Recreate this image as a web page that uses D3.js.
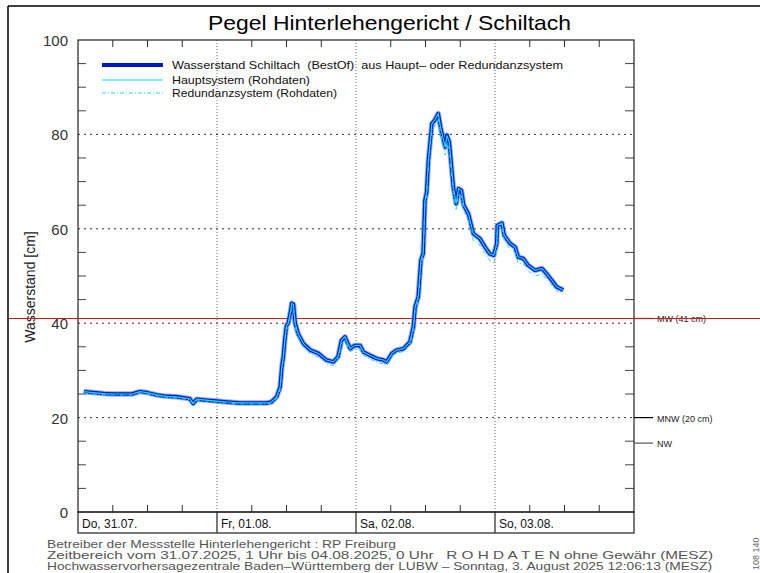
<!DOCTYPE html>
<html><head><meta charset="utf-8">
<script src="https://cdn.jsdelivr.net/npm/d3@7"></script>
<style>body{margin:0;background:#fff}svg{display:block}text{font-family:"Liberation Sans","DejaVu Sans",sans-serif;white-space:pre}</style>
</head><body><svg id="c" width="760" height="573"></svg>
<script>
const title = "Pegel Hinterlehengericht / Schiltach";
const dayLabels = ["Do, 31.07.", "Fr, 01.08.", "Sa, 02.08.", "So, 03.08."];
const yTicks = [0, 20, 40, 60, 80, 100];
const hours = [1.0,2.6,4.4,6.0,7.8,9.3,10.7,11.9,13.6,15.3,17.0,18.8,19.3,19.9,20.5,22.2,23.9,25.7,28.0,30.3,32.6,33.4,34.3,34.9,35.2,35.45,35.7,36.0,36.3,36.7,36.9,37.2,37.5,38.0,38.9,40.1,41.5,42.9,44.1,44.9,45.5,46.1,47.0,47.8,48.7,49.3,50.4,51.6,52.7,53.3,54.2,55.0,56.2,57.3,57.9,58.2,58.75,59.2,59.6,59.9,60.2,60.5,61.1,61.6,62.2,62.6,63.0,63.4,63.7,64.1,64.5,64.8,65.3,65.7,66.2,66.6,67.4,68.25,69.4,70.3,71.1,71.8,72.3,72.4,73.2,73.6,74.6,75.5,76.0,76.9,77.7,78.9,80.1,80.9,81.8,82.65,83.8];
const bestOf = [25.5,25.3,25.1,25.0,25.0,25.0,25.5,25.3,24.8,24.5,24.4,24.1,24.0,23.0,23.9,23.7,23.5,23.3,23.1,23.1,23.1,23.3,24.4,26.5,30.8,32.9,36.4,39.5,40.0,42.5,44.2,44.0,40.0,37.8,35.7,34.3,33.6,32.2,31.8,32.9,36.4,37.1,34.6,35.3,35.3,33.9,33.2,32.5,32.2,31.8,33.6,34.3,34.6,36.0,39.2,43.4,45.6,53.3,54.8,66.0,67.8,74.5,82.3,83.0,84.4,81.5,79.4,77.3,79.8,78.4,73.0,68.9,65.3,68.5,68.1,65.0,63.2,59.0,57.9,56.1,54.7,54.4,56.9,60.7,61.2,58.6,56.9,56.1,54.0,53.7,52.3,51.2,51.6,50.5,49.1,47.7,47.0];
const haupt = [25.5,25.3,25.1,25.0,25.0,25.0,25.5,25.3,24.8,24.5,24.4,24.1,24.0,23.0,23.9,23.7,23.5,23.3,23.1,23.1,23.1,23.3,24.4,26.5,30.8,32.9,36.4,39.5,40.0,42.5,44.2,44.0,40.0,37.8,35.7,34.3,33.6,32.2,31.8,32.9,36.4,37.1,34.6,35.3,35.3,33.9,33.2,32.5,32.2,31.8,33.6,34.3,34.6,36.0,39.2,43.4,45.6,53.3,54.8,66.0,67.8,74.5,82.3,83.0,84.4,81.5,79.4,77.3,79.8,78.4,73.0,68.9,65.3,68.5,68.1,65.0,63.2,59.0,57.9,56.1,54.7,54.4,56.9,60.7,61.2,58.6,56.9,56.1,54.0,53.7,52.3,51.2,51.6,50.5,49.1,47.7,47.0];
const redundanz = [25.2,25.0,24.9,24.8,24.8,24.8,25.2,25.0,24.6,24.3,24.2,23.9,23.8,22.8,23.7,23.5,23.3,23.1,22.9,22.9,22.9,23.1,24.0,26.0,30.0,32.3,35.5,38.6,39.2,41.8,43.5,43.2,39.2,37.0,34.9,33.5,32.8,31.5,31.0,32.3,35.6,36.4,33.9,34.6,34.6,33.2,32.4,31.7,31.4,31.0,33.0,33.7,34.0,35.4,38.6,42.6,44.8,52.4,54.0,65.0,66.8,73.4,80.9,81.8,83.3,80.2,77.8,75.6,78.3,76.9,71.5,67.6,64.1,67.3,66.9,63.8,62.0,57.5,56.5,54.7,53.3,52.6,55.5,59.5,60.0,57.4,55.7,54.9,52.8,52.5,51.1,50.0,50.4,49.4,48.0,46.8,46.3];
const legendLabels = ["Wasserstand Schiltach  (BestOf)  aus Haupt\u2013 oder Redundanzsystem", "Hauptsystem (Rohdaten)", "Redundanzsystem (Rohdaten)"];
const refLevels = [{label:"MW (41 cm)", v:41}, {label:"MNW (20 cm)", v:20}, {label:"NW", v:14.6}];
const footer = ["Betreiber der Messstelle Hinterlehengericht : RP Freiburg",
  "Zeitbereich vom 31.07.2025, 1 Uhr bis 04.08.2025, 0 Uhr   R O H D A T E N ohne Gew\u00e4hr (MESZ)",
  "Hochwasservorhersagezentrale Baden\u2013W\u00fcrttemberg der LUBW \u2013 Sonntag, 3. August 2025 12:06:13 (MESZ)"];

const svg = d3.select("#c");
const L = 78, R = 634, T = 40, B = 512;
const t0 = new Date(2025, 6, 31, 0), t1 = new Date(2025, 7, 4, 0);
const x = d3.scaleTime().domain([t0, t1]).range([L, R]);
const y = d3.scaleLinear().domain([0, 100]).range([B, T]);
const toDate = h => new Date(t0.getTime() + h * 3600e3);

// frame
svg.append("line").attr("x1", 8).attr("x2", 760).attr("y1", 6).attr("y2", 6).attr("stroke", "#000").attr("stroke-width", 1.5);
svg.append("line").attr("x1", 8).attr("x2", 8).attr("y1", 6).attr("y2", 573).attr("stroke", "#000").attr("stroke-width", 1.5);

// title
svg.append("text").attr("x", 208).attr("y", 30).attr("font-size", 21).attr("textLength", 363).attr("lengthAdjust", "spacingAndGlyphs").attr("fill", "#000").text(title);

// grid
const g = svg.append("g");
const dayTicks = d3.timeDay.range(t0, t1).slice(1);
g.selectAll(".vg").data(dayTicks).join("line").attr("x1", d => x(d)).attr("x2", d => x(d)).attr("y1", T).attr("y2", B)
  .attr("stroke", "#666").attr("stroke-dasharray", "1,2").attr("stroke-width", 1);
g.selectAll(".hg").data([20, 40, 60, 80]).join("line").attr("x1", L).attr("x2", R).attr("y1", d => y(d)).attr("y2", d => y(d))
  .attr("stroke", "#333").attr("stroke-dasharray", "2,4").attr("stroke-width", 1);

// minor ticks on x (6h)
const sixH = d3.timeHour.every(6).range(t0, t1).filter(d => d.getHours() !== 0);
g.selectAll(".tt").data(sixH).join("line").attr("x1", d => x(d)).attr("x2", d => x(d)).attr("y1", T).attr("y2", T + 7).attr("stroke", "#333");
g.selectAll(".bt").data(sixH).join("line").attr("x1", d => x(d)).attr("x2", d => x(d)).attr("y1", B).attr("y2", B - 7).attr("stroke", "#333");
// y minor ticks every 5
const fives = d3.range(5, 100, 5).filter(v => v % 20 !== 0);
g.selectAll(".lt").data(fives).join("line").attr("x1", L).attr("x2", L + 8).attr("y1", d => y(d)).attr("y2", d => y(d)).attr("stroke", "#444");
g.selectAll(".rt").data(fives).join("line").attr("x1", R).attr("x2", R - 9).attr("y1", d => y(d)).attr("y2", d => y(d)).attr("stroke", "#444");

// y tick labels
svg.selectAll(".yl").data(yTicks).join("text").attr("x", 68).attr("y", d => y(d) + 6).attr("text-anchor", "end")
  .attr("font-size", 15).attr("fill", "#333").text(d => d);
svg.append("text").attr("transform", "translate(35,287) rotate(-90)").attr("text-anchor", "middle").attr("font-size", 14).attr("fill", "#222").text("Wasserstand [cm]");

// plot border
svg.append("rect").attr("x", L).attr("y", T).attr("width", R - L).attr("height", B - T).attr("fill", "none").attr("stroke", "#222").attr("stroke-width", 1.2);
// date box
svg.append("rect").attr("x", L).attr("y", B).attr("width", R - L).attr("height", 21).attr("fill", "none").attr("stroke", "#222").attr("stroke-width", 1.2);
svg.selectAll(".ds").data(dayTicks).join("line").attr("x1", d => x(d)).attr("x2", d => x(d)).attr("y1", B).attr("y2", B + 21).attr("stroke", "#222").attr("stroke-width", 1.2);
const dayStarts = d3.timeDay.range(t0, t1);
svg.selectAll(".dl").data(dayStarts).join("text").attr("x", d => x(d) + 4).attr("y", B + 16).attr("font-size", 12).attr("fill", "#111")
  .text((d, i) => dayLabels[i]);

// reference levels
refLevels.forEach((r, i) => {
  svg.append("line").attr("x1", R).attr("x2", R + 19).attr("y1", y(r.v)).attr("y2", y(r.v)).attr("stroke", i === 2 ? "#555" : "#000").attr("stroke-width", 1.2);
  svg.append("text").attr("x", R + 23).attr("y", y(r.v) + 4).attr("font-size", 9).attr("fill", "#222").text(r.label);
});
svg.append("line").attr("x1", 9).attr("x2", 760).attr("y1", y(41)).attr("y2", y(41)).attr("stroke", "#e01010").attr("stroke-width", 1.2);

// series
const mk = vals => hours.map((h, i) => ({t: toDate(h), v: vals[i]}));
const line = d3.line().x(d => x(d.t)).y(d => y(d.v));
svg.append("path").datum(mk(bestOf)).attr("d", line).attr("fill", "none").attr("stroke", "#6f80e8").attr("stroke-width", 5.5).attr("stroke-linejoin", "round").attr("opacity", 0.7);
svg.append("path").datum(mk(bestOf)).attr("d", line).attr("fill", "none").attr("stroke", "#0018c8").attr("stroke-width", 3.5).attr("stroke-linejoin", "round");
svg.append("path").datum(mk(redundanz)).attr("d", line).attr("fill", "none").attr("stroke", "#30d8d8").attr("stroke-width", 1).attr("stroke-dasharray", "4,2,1,2");
svg.append("path").datum(mk(haupt)).attr("d", line).attr("fill", "none").attr("stroke", "#00e0f0").attr("stroke-width", 1.2);

// legend
const lg = [{y: 65, c: "#0018c8", w: 4, da: null, tl: 391}, {y: 80, c: "#00e0f0", w: 1.2, da: null, tl: 138}, {y: 93, c: "#30d8d8", w: 1.2, da: "4,2,1,2", tl: 165}];
lg.forEach((d, i) => {
  const ln = svg.append("line").attr("x1", 102).attr("x2", 163).attr("y1", d.y).attr("y2", d.y).attr("stroke", d.c).attr("stroke-width", d.w);
  if (d.da) ln.attr("stroke-dasharray", d.da);
  svg.append("text").attr("x", 172).attr("y", d.y + 4).attr("font-size", 11).attr("fill", "#111")
    .attr("textLength", d.tl).attr("lengthAdjust", "spacingAndGlyphs").text(legendLabels[i]);
});

// footer
footer.forEach((f, i) => {
  svg.append("text").attr("x", 47).attr("y", 548 + i * 11).attr("font-size", 11).attr("fill", "#555")
    .attr("textLength", [349, 666, 665][i]).attr("lengthAdjust", "spacingAndGlyphs").text(f);
});
svg.append("text").attr("transform", "translate(759,570) rotate(-90)").attr("font-size", 9).attr("fill", "#666").text("108 140");
</script></body></html>
